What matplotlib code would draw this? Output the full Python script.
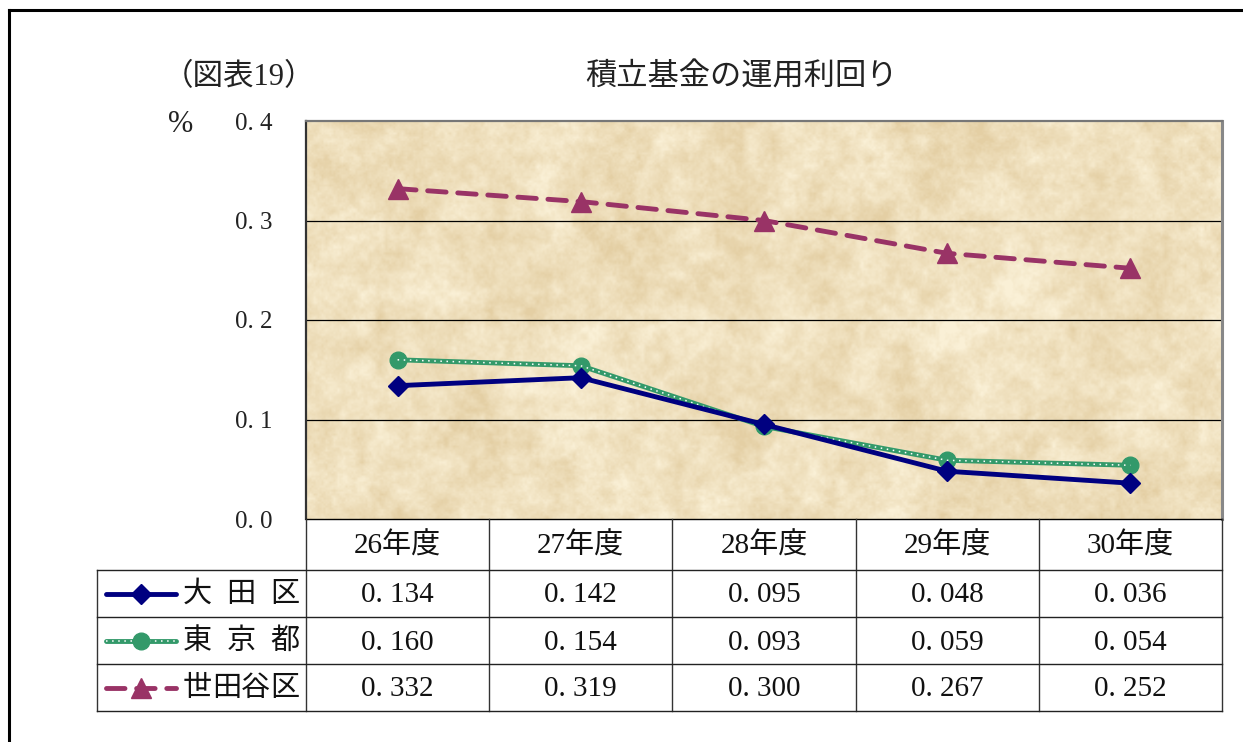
import numpy as np
import matplotlib
matplotlib.use('Agg')
import matplotlib.pyplot as plt
from matplotlib.ticker import FuncFormatter

plt.rcParams['font.family'] = ['Liberation Serif', 'Noto Sans CJK JP', 'DejaVu Sans']

# データ
years = ['26年度', '27年度', '28年度', '29年度', '30年度']
ota = [0.134, 0.142, 0.095, 0.048, 0.036]
tokyo = [0.160, 0.154, 0.093, 0.059, 0.054]
setagaya = [0.332, 0.319, 0.300, 0.267, 0.252]
series_names = ['大田区', '東京都', '世田谷区']
title = '積立基金の運用利回り'
fig_label = '（図表19）'

W, H = 1243, 742
fig = plt.figure(figsize=(W / 100, H / 100), dpi=100)
fig.patch.set_facecolor('white')

# ピクセル座標で配置
L, R, T, B = 306, 1222, 121, 519
ax = fig.add_axes([L / W, 1 - B / H, (R - L) / W, (B - T) / H])


def upsample(a, h, w):
    xs = np.linspace(0, a.shape[1] - 1, w)
    ys = np.linspace(0, a.shape[0] - 1, h)
    rows = np.array([np.interp(xs, np.arange(a.shape[1]), r) for r in a])
    return np.array([np.interp(ys, np.arange(a.shape[0]), c) for c in rows.T]).T


# 羊皮紙風の背景
rng = np.random.default_rng(7)
ph, pw = B - T, R - L
tex = np.zeros((ph, pw))
for (gh, gw), wt in [((5, 12), 0.4), ((10, 24), 0.5), ((22, 50), 0.6),
                     ((45, 100), 0.5), ((100, 230), 0.35), ((200, 460), 0.2)]:
    tex += wt * upsample(rng.random((gh, gw)), ph, pw)
tex = (tex - tex.min()) / (tex.max() - tex.min())
tex = np.clip((tex - 0.15) / 0.75, 0, 1)
light = np.array([250, 240, 214]) / 255
dark = np.array([228, 207, 164]) / 255
img = light + (dark - light) * tex[..., None]
ax.imshow(img, extent=(-0.5, 4.5, 0, 0.4), aspect='auto', zorder=0,
          interpolation='bilinear')

x = np.arange(len(years))
ax.set_xlim(-0.5, 4.5)
ax.set_ylim(0, 0.4)
ax.set_yticks([0, 0.1, 0.2, 0.3, 0.4])
ax.yaxis.set_major_formatter(FuncFormatter(lambda v, p: f'{v:.1f}'.replace('.', '. ')))
ax.tick_params(axis='y', length=0, pad=24, labelsize=18, labelcolor='#222222')
ax.set_xticks([])
for yv in [0.1, 0.2, 0.3]:
    ax.axhline(yv, color='black', lw=0.9, zorder=1)

ax.spines['left'].set_color('#333333')
ax.spines['left'].set_linewidth(1.6)
ax.spines['top'].set_color('#777777')
ax.spines['top'].set_linewidth(1.6)
ax.spines['right'].set_color('#888888')
ax.spines['right'].set_linewidth(2.2)
ax.spines['bottom'].set_color('black')
ax.spines['bottom'].set_linewidth(1.0)

navy = '#000080'
green = '#33996a'
plum = '#993366'

ax.plot(x, ota, color=navy, lw=3.5, marker='D', ms=10, zorder=4, clip_on=False)
ax.plot(x, tokyo, color=green, lw=3.5, marker='o', ms=12, zorder=3, clip_on=False)
ax.plot(x, tokyo, color='white', lw=1.1, ls=(0, (1, 3)), zorder=3.5, clip_on=False)
ax.plot(x, setagaya, color=plum, lw=3.5, ls=(0, (3.8, 2.4)), dash_capstyle='round',
        marker='^', ms=15, zorder=4, clip_on=False)

# 表と注記用のオーバーレイ
ov = fig.add_axes([0, 0, 1, 1], zorder=5)
ov.set_xlim(0, W)
ov.set_ylim(H, 0)
ov.axis('off')
ov.patch.set_alpha(0)

# 外枠
ov.plot([9, 9], [10, H], color='black', lw=2.2)
ov.plot([9, W], [10, 10], color='black', lw=2.2)

ov.text(741, 78, title, ha='center', va='center', fontsize=22.5, color='#222222')
ov.text(239, 78, fig_label, ha='center', va='center', fontsize=22, color='#222222')
ov.text(181, 124, '%', ha='center', va='center', fontsize=22, color='#222222')

cols = np.linspace(L, R, len(years) + 1)
rows_y = [570, 617, 664, 711]
LX = 97

# 罫線
for cx in cols:
    ov.plot([cx, cx], [B, rows_y[-1]], color='#333333', lw=1)
ov.plot([LX, LX], [rows_y[0], rows_y[-1]], color='#333333', lw=1)
for ry in rows_y:
    ov.plot([LX, R], [ry, ry], color='#222222', lw=1)

for i, yr in enumerate(years):
    cx = (cols[i] + cols[i + 1]) / 2
    ov.text(cx, (B + rows_y[0]) / 2 + 1, yr, ha='center', va='center',
            fontsize=21, color='#111111')

all_vals = [ota, tokyo, setagaya]
for r, vals in enumerate(all_vals):
    cy = (rows_y[r] + rows_y[r + 1]) / 2 + 2
    for i, v in enumerate(vals):
        cx = (cols[i] + cols[i + 1]) / 2
        ov.text(cx, cy, f'{v:.3f}'.replace('.', '. '), ha='center', va='center',
                fontsize=21, color='#111111')

# 凡例記号
ly = [(rows_y[i] + rows_y[i + 1]) / 2 for i in range(3)]
ov.plot([106, 176], [ly[0], ly[0]], color=navy, lw=3.5, solid_capstyle='round')
ov.plot([141], [ly[0]], marker='D', color=navy, ms=10)
ov.plot([106, 176], [ly[1], ly[1]], color=green, lw=3.5, solid_capstyle='round')
ov.plot([106, 176], [ly[1], ly[1]], color='white', lw=1.1, ls=(0, (1, 3)))
ov.plot([141], [ly[1]], marker='o', color=green, ms=12)
ov.plot([106, 176], [ly[2], ly[2]], color=plum, lw=3.5, ls=(0, (3.8, 2.4)),
        dash_capstyle='round')
ov.plot([141], [ly[2]], marker='^', color=plum, ms=15)

# 系列名を均等割付
x0, x1 = 183, 299
for r, name in enumerate(series_names):
    n = len(name)
    em = 29
    centers = np.linspace(x0 + em / 2, x1 - em / 2, n)
    for ch, cx in zip(name, centers):
        ov.text(cx, ly[r] + 1, ch, ha='center', va='center', fontsize=21,
                color='#111111')

fig.savefig('out.png', dpi=100)
